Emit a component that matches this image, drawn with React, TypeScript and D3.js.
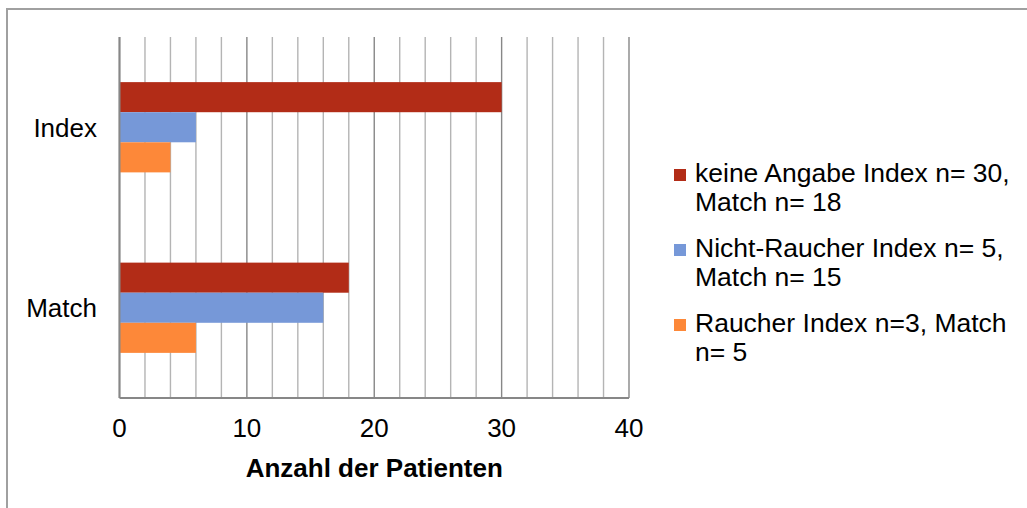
import React from "react";
import * as d3 from "d3";

const categories = ["Index", "Match"];
const seriesNames = [
  ["keine Angabe Index n= 30,", "Match n= 18"],
  ["Nicht-Raucher Index n= 5,", "Match n= 15"],
  ["Raucher Index n=3, Match", "n= 5"],
];
const seriesColors = ["#B22C17", "#7698D8", "#FD8839"];
const keineAngabe = [30, 18];
const nichtRaucher = [6, 16];
const raucher = [4, 6];
const xTicks = [0, 10, 20, 30, 40];
const xTitle = "Anzahl der Patienten";

const W = 1027;
const H = 508;
const FONT = "'Liberation Sans', Arial, sans-serif";

export default function App() {
  const series = [keineAngabe, nichtRaucher, raucher];
  const x = d3.scaleLinear().domain([0, 40]).range([119.5, 629]);
  const y = d3.scaleBand<string>().domain(categories).range([37, 398]).padding(0);
  const bw = y.bandwidth();
  const groupH = bw / 2;
  const barH = groupH / series.length;
  const gridVals = d3.range(0, 41, 2);

  return (
    <svg width={W} height={H} style={{ position: "absolute", left: 0, top: 0, background: "#fff" }} fontFamily={FONT}>
      <rect x={7} y={9} width={1200} height={800} fill="#fff" stroke="#A0A0A0" strokeWidth={2} />
      {gridVals.map((v) => (
        <line
          key={v}
          x1={x(v)}
          x2={x(v)}
          y1={37}
          y2={398}
          stroke={v % 10 === 0 ? "#878787" : "#B4B4B4"}
          strokeWidth={1.4}
        />
      ))}
      {categories.map((c, ci) =>
        series.map((s, si) => (
          <rect
            key={c + si}
            x={x(0)}
            y={(y(c) as number) + bw / 4 + si * barH}
            width={x(s[ci]) - x(0)}
            height={barH}
            fill={seriesColors[si]}
          />
        ))
      )}
      <line x1={x(0)} x2={x(0)} y1={37} y2={398} stroke="#878787" strokeWidth={2} />
      <line x1={x(0)} x2={x(40)} y1={398} y2={398} stroke="#878787" strokeWidth={2} />
      {xTicks.map((t) => (
        <text key={t} x={x(t)} y={437} textAnchor="middle" fontSize={26} fill="#000">
          {t}
        </text>
      ))}
      <text x={x(20)} y={477} textAnchor="middle" fontSize={26} fontWeight="bold" fill="#000">
        {xTitle}
      </text>
      {categories.map((c) => (
        <text key={c} x={97} y={(y(c) as number) + bw / 2 + 9.5} textAnchor="end" fontSize={26} fill="#000">
          {c}
        </text>
      ))}
      {seriesNames.map((lines, i) => (
        <g key={i} transform={`translate(0, ${i * 75})`}>
          <rect x={674} y={169} width={12} height={12} fill={seriesColors[i]} />
          {lines.map((ln, li) => (
            <text key={li} x={695} y={182 + li * 29} fontSize={26.5} fill="#000">
              {ln}
            </text>
          ))}
        </g>
      ))}
    </svg>
  );
}
